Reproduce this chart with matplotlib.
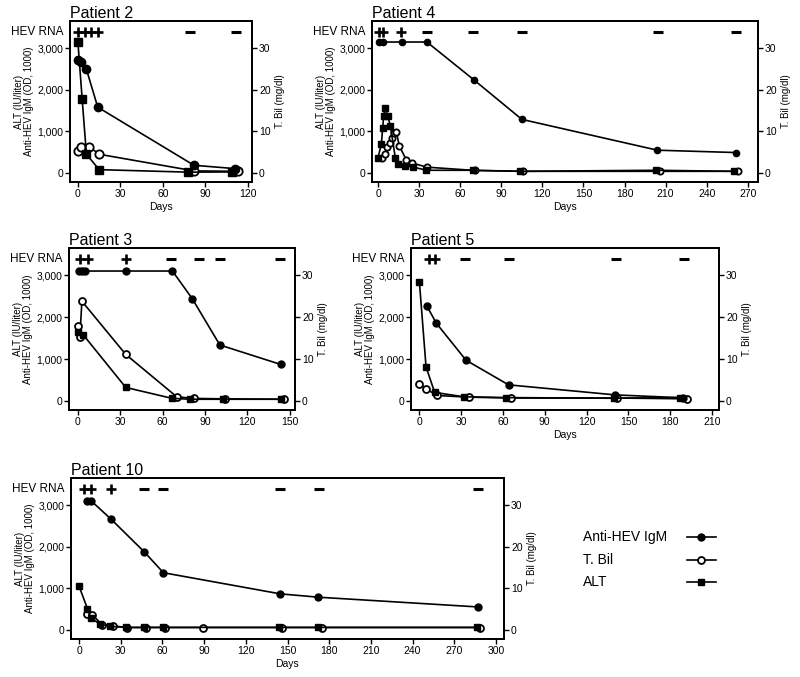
import matplotlib
matplotlib.use('Agg')
import matplotlib.pyplot as plt
from matplotlib.ticker import FuncFormatter
import matplotlib.transforms as mtransforms

plt.rcParams['font.family'] = ['Liberation Sans', 'DejaVu Sans']

# ---- data ----
# Patient 2
p2_igm_days = [0, 2, 6, 14, 82, 111]
p2_igm = [2720, 2670, 2490, 1580, 185, 105]
p2_tbil_days = [0, 2, 8, 15, 82, 113]
p2_tbil = [5.3, 6.3, 6.3, 4.5, 0.5, 0.4]
p2_alt_days = [0, 3, 6, 15, 78, 109]
p2_alt = [3140, 1770, 450, 80, 20, 25]
p2_rna_pos = [0, 5, 9, 14]
p2_rna_neg = [79, 112]

# Patient 4
p4_igm_days = [0.5, 3.4, 17.5, 35.7, 70, 105, 204, 261]
p4_igm = [3145, 3145, 3145, 3145, 2236, 1287, 547, 491]
p4_tbil_days = [3, 5, 6.6, 8.5, 10.2, 11.4, 13.4, 15.5, 20.6, 24.8, 35.7, 71, 106, 205.6, 262.7]
p4_tbil = [3.7, 4.5, 6.3, 7.1, 8.3, 9.5, 9.9, 6.5, 3.2, 2.4, 1.4, 0.6, 0.4, 0.4, 0.4]
p4_alt_days = [0, 2.4, 3.4, 4.1, 5.3, 7, 9, 12.6, 14.6, 19.4, 25.5, 35.2, 69.7, 104, 202.7, 259.8]
p4_alt = [370, 690, 1070, 1380, 1550, 1380, 1130, 370, 225, 170, 145, 65, 65, 40, 65, 40]
p4_rna_pos = [0.5, 3.4, 17]
p4_rna_neg = [35.7, 69.7, 105.4, 204.4, 261]

# Patient 3
p3_igm_days = [1, 2.8, 5.2, 34, 67, 81, 100.5, 143.6]
p3_igm = [3100, 3100, 3100, 3100, 3100, 2440, 1335, 870]
p3_tbil_days = [0, 1.6, 3, 34, 70, 82, 104, 145.7]
p3_tbil = [17.9, 15.3, 23.8, 11.1, 1.0, 0.6, 0.5, 0.4]
p3_alt_days = [0, 4, 34, 66.4, 79.3, 102.4, 143.6]
p3_alt = [1650, 1576, 322, 64, 40, 40, 40]
p3_rna_pos = [2, 7, 34]
p3_rna_neg = [66, 86, 100.5, 143]

# Patient 5
p5_igm_days = [5.5, 12.2, 33.5, 64, 140.6, 189]
p5_igm = [2257, 1854, 971, 384, 144, 75]
p5_tbil_days = [0, 4.8, 12.7, 35.4, 65.8, 141.8, 192]
p5_tbil = [4.0, 2.9, 1.3, 0.9, 0.7, 0.7, 0.5]
p5_alt_days = [0, 4.8, 11, 31.8, 62.2, 139.4, 186.8]
p5_alt = [2850, 810, 203, 100, 80, 64, 80]
p5_rna_pos = [7, 11.5]
p5_rna_neg = [33, 64, 141, 190]

# Patient 10
p10_igm_days = [6, 8.6, 23, 47, 60.7, 144.7, 172.3, 286.8]
p10_igm = [3105, 3105, 2663, 1874, 1376, 869, 788, 555]
p10_tbil_days = [6, 9.6, 16.3, 24.7, 34.3, 48.2, 62, 89.5, 145.9, 174.7, 288.2]
p10_tbil = [3.9, 3.7, 1.3, 1.0, 0.6, 0.6, 0.6, 0.6, 0.6, 0.6, 0.6]
p10_alt_days = [0, 6, 8.4, 15.1, 22.3, 33.6, 46.8, 60.7, 144.2, 171.8, 286.3]
p10_alt = [1054, 515, 290, 145, 88, 64, 64, 64, 64, 64, 64]
p10_rna_pos = [3.6, 8.4, 22.8]
p10_rna_neg = [46.8, 60.7, 144.7, 172.8, 286.8]

legend_labels = ['Anti-HEV IgM', 'T. Bil', 'ALT']

YLIM = (-216, 3650)
RNA_Y = 3380


def panel(fig, rect, title, xlim, xmax_tick, igm_d, igm, tb_d, tb, alt_d, alt,
          rna_pos, rna_neg, ms=5, days_label=True):
    ax = fig.add_axes(rect)
    ax2 = ax.twinx()
    ax.set_zorder(2)
    ax.patch.set_visible(False)

    ax.plot(alt_d, alt, color='k', lw=1.2, marker='s', ms=ms, mfc='k', mec='k', zorder=3)
    ax.plot(igm_d, igm, color='k', lw=1.2, marker='o', ms=ms, mfc='k', mec='k', zorder=3)
    ax2.plot(tb_d, tb, color='k', lw=1.2, marker='o', ms=ms, mfc='white', mec='k', mew=1.3, zorder=4)

    ax.set_xlim(*xlim)
    ax.set_ylim(*YLIM)
    ax2.set_ylim(YLIM[0] / 100, YLIM[1] / 100)
    ax.set_xticks(range(0, xmax_tick + 1, 30))
    ax.set_yticks([0, 1000, 2000, 3000])
    ax2.set_yticks([0, 10, 20, 30])
    ax.yaxis.set_major_formatter(FuncFormatter(lambda v, p: f'{int(v):,}'))

    for a in (ax, ax2):
        for s in a.spines.values():
            s.set_linewidth(1.3)
        a.tick_params(direction='out', length=3.5, width=1.0, labelsize=7.5, pad=1.5)

    ax.set_ylabel('ALT (IU/liter)\nAnti-HEV IgM (OD, 1000)', fontsize=7, labelpad=2, linespacing=1.05)
    ax2.set_ylabel('T. Bil (mg/dl)', fontsize=7, labelpad=3)
    if days_label:
        ax.set_xlabel('Days', fontsize=7.5, labelpad=2)
    ax.set_title(title, loc='left', fontsize=11.5, pad=1.5)

    # HEV RNA row
    trans = mtransforms.blended_transform_factory(ax.transAxes, ax.transData)
    trans = trans + mtransforms.ScaledTranslation(-5 / 72, 0, fig.dpi_scale_trans)
    ax.text(0, RNA_Y, 'HEV RNA', transform=trans, ha='right', va='center', fontsize=8.5)
    ax.plot(rna_pos, [RNA_Y] * len(rna_pos), ls='none', marker='+', ms=7.5, mew=1.9, color='k')
    ax.plot(rna_neg, [RNA_Y] * len(rna_neg), ls='none', marker='_', ms=7, mew=2.2, color='k')
    return ax


fig = plt.figure(figsize=(8, 6.77), dpi=100)

panel(fig, [0.0875, 0.7312, 0.2275, 0.2378], 'Patient 2', (-5.6, 123), 120,
      p2_igm_days, p2_igm, p2_tbil_days, p2_tbil, p2_alt_days, p2_alt,
      p2_rna_pos, p2_rna_neg, ms=6)
panel(fig, [0.465, 0.7312, 0.4825, 0.2378], 'Patient 4', (-4.4, 277.4), 270,
      p4_igm_days, p4_igm, p4_tbil_days, p4_tbil, p4_alt_days, p4_alt,
      p4_rna_pos, p4_rna_neg, ms=4.5)
panel(fig, [0.08625, 0.3944, 0.2825, 0.2393], 'Patient 3', (-6.1, 153.6), 150,
      p3_igm_days, p3_igm, p3_tbil_days, p3_tbil, p3_alt_days, p3_alt,
      p3_rna_pos, p3_rna_neg, ms=5, days_label=False)
panel(fig, [0.51375, 0.3944, 0.385, 0.2393], 'Patient 5', (-6, 215), 210,
      p5_igm_days, p5_igm, p5_tbil_days, p5_tbil, p5_alt_days, p5_alt,
      p5_rna_pos, p5_rna_neg, ms=5)
panel(fig, [0.08875, 0.0561, 0.54125, 0.2378], 'Patient 10', (-5.8, 305.8), 300,
      p10_igm_days, p10_igm, p10_tbil_days, p10_tbil, p10_alt_days, p10_alt,
      p10_rna_pos, p10_rna_neg, ms=5)

# legend: text left-aligned, keys aligned to the right
lax = fig.add_axes([0.72, 0.10, 0.28, 0.14])
lax.set_xlim(0, 1)
lax.set_ylim(-3.21, 1.0)
lax.axis('off')
styles = [dict(marker='o', mfc='k'), dict(marker='o', mfc='white', mew=1.3), dict(marker='s', mfc='k')]
for i, (lab, st) in enumerate(zip(legend_labels, styles)):
    lax.text(0.031, -i, lab, fontsize=10, va='center', ha='left')
    lax.plot([0.496, 0.56, 0.625], [-i] * 3, color='k', lw=1.2, ms=5, mec='k', markevery=[1], **st)

fig.savefig('out.png', dpi=100)
